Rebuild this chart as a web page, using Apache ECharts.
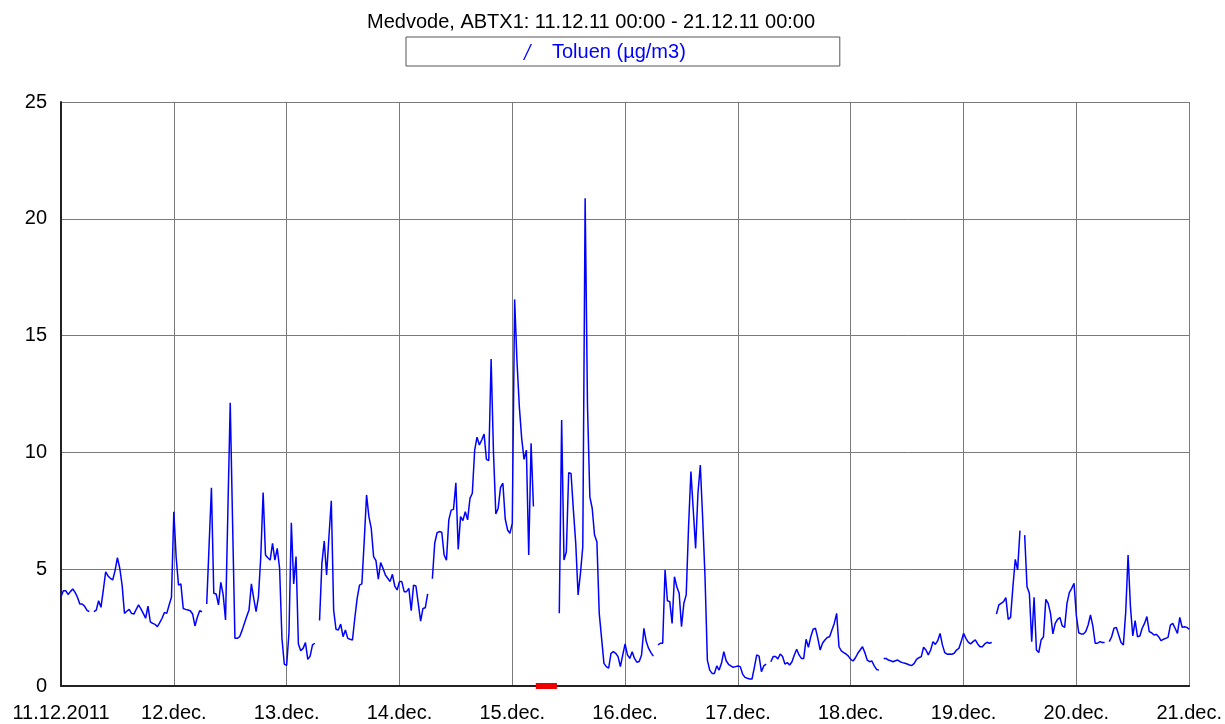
<!DOCTYPE html>
<html>
<head>
<meta charset="utf-8">
<title>Medvode ABTX1 - Toluen</title>
<script src="https://cdn.jsdelivr.net/npm/echarts@6/dist/echarts.min.js"></script>
<style>
  html, body { margin: 0; padding: 0; background: #fff; }
  #chart { width: 1225px; height: 724px; }
</style>
</head>
<body>
<div id="chart"></div>
<script>
// half-hour values of Toluen (µg/m3), one array per day, null = no measurement
var day11 = [3.82, 4.08, 4.08, 3.92, 4.04, 4.15, 4.01, 3.80, 3.51, 3.51, 3.42, 3.25, 3.18, null, 3.18, 3.25,
  3.65, 3.37, 4.10, 4.89, 4.71, 4.61, 4.54, 4.94, 5.49, 5.04, 4.32, 3.11, 3.20, 3.28, 3.11, 3.08,
  3.28, 3.47, 3.30, 3.11, 2.90, 3.42, 2.75, 2.68, 2.64, 2.54, 2.71, 2.90, 3.15, 3.11, 3.47, 3.80];
var day12 = [7.46, 5.50, 4.32, 4.37, 3.32, 3.28, 3.25, 3.22, 3.08, 2.57, 2.94, 3.22, 3.18, null, 3.51, 6.00,
  8.49, 3.97, 3.94, 3.47, 4.44, 3.90, 2.83, 7.50, 12.13, 7.00, 2.04, 2.04, 2.11, 2.37, 2.68, 2.97,
  3.25, 4.37, 3.75, 3.18, 3.82, 5.54, 8.28, 5.61, 5.49, 5.39, 6.11, 5.39, 5.89, 5.04, 2.04, 0.94];
var day13 = [0.88, 2.30, 6.99, 4.37, 5.54, 1.80, 1.51, 1.61, 1.86, 1.14, 1.28, 1.76, 1.83, null, 2.80, 5.25,
  6.21, 4.75, 6.39, 7.93, 3.25, 2.43, 2.40, 2.65, 2.11, 2.40, 2.04, 2.00, 1.97, 2.90, 3.75, 4.32,
  4.37, 6.18, 8.18, 7.25, 6.75, 5.54, 5.37, 4.57, 5.28, 5.04, 4.75, 4.61, 4.47, 4.78, 4.28, 4.11];
var day14 = [4.47, 4.47, 4.04, 4.04, 4.18, 3.22, 4.32, 4.28, 3.54, 2.78, 3.32, 3.35, 3.94, null, 4.59, 6.11,
  6.56, 6.61, 6.58, 5.61, 5.39, 7.11, 7.53, 7.56, 8.70, 5.85, 7.25, 7.08, 7.46, 7.11, 8.03, 8.25,
  10.10, 10.65, 10.32, 10.53, 10.79, 9.70, 9.65, 14.00, 10.00, 7.36, 7.61, 8.50, 8.68, 7.15, 6.68, 6.54];
var day15 = [6.96, 16.55, 13.90, 11.96, 10.60, 9.70, 10.10, 5.61, 10.39, 7.68, null, null, null, null, null, null,
  null, null, null, null, 3.11, 11.39, 5.39, 5.75, 9.13, 9.10, 7.53, 6.11, 3.90, 4.82, 5.96, 20.88,
  12.00, 8.10, 7.61, 6.46, 6.18, 3.11, 2.04, 0.97, 0.83, 0.76, 1.40, 1.47, 1.40, 1.26, 0.83, 1.33];
var day16 = [1.80, 1.33, 1.18, 1.47, 1.18, 1.02, 1.05, 1.33, 2.47, 1.90, 1.61, 1.43, 1.28, null, 1.76, 1.83,
  1.83, 4.97, 3.65, 3.61, 2.68, 4.68, 4.25, 3.97, 2.54, 3.54, 3.90, 6.82, 9.18, 7.53, 5.89, 8.25,
  9.46, 7.18, 4.68, 1.11, 0.68, 0.54, 0.54, 0.86, 0.68, 0.97, 1.47, 1.08, 0.93, 0.86, 0.80, 0.83];
var day17 = [0.86, 0.83, 0.51, 0.37, 0.33, 0.30, 0.30, 0.80, 1.33, 1.28, 0.61, 0.86, 0.94, null, 1.04, 1.26,
  1.26, 1.16, 1.37, 1.26, 0.94, 1.00, 0.90, 1.04, 1.33, 1.57, 1.33, 1.18, 1.18, 2.00, 1.66, 2.11,
  2.43, 2.47, 2.04, 1.54, 1.83, 1.97, 2.08, 2.11, 2.40, 2.68, 3.11, 1.68, 1.50, 1.43, 1.37, 1.28];
var day18 = [1.14, 1.07, 1.21, 1.40, 1.54, 1.68, 1.43, 1.11, 1.04, 1.07, 0.86, 0.71, 0.68, null, 1.18, 1.18,
  1.11, 1.08, 1.04, 1.08, 1.11, 1.04, 1.00, 0.97, 0.94, 0.90, 0.88, 0.97, 1.14, 1.21, 1.26, 1.66,
  1.54, 1.33, 1.54, 1.90, 1.78, 1.94, 2.25, 1.76, 1.43, 1.36, 1.37, 1.36, 1.40, 1.54, 1.61, 1.90];
var day19 = [2.25, 2.04, 1.88, 1.80, 1.90, 1.97, 1.80, 1.68, 1.68, 1.80, 1.87, 1.83, 1.86, null, 3.08, 3.47,
  3.54, 3.61, 3.78, 2.85, 2.94, 4.25, 5.42, 4.97, 6.65, null, 6.46, 4.25, 3.97, 1.90, 3.80, 1.54,
  1.43, 1.97, 2.11, 3.71, 3.54, 3.11, 2.23, 2.68, 2.85, 2.93, 2.57, 2.51, 3.54, 4.00, 4.18, 4.40];
var day20 = [3.00, 2.28, 2.23, 2.23, 2.33, 2.61, 3.04, 2.57, 1.83, 1.83, 1.90, 1.86, 1.86, null, 1.90, 2.11,
  2.47, 2.51, 2.18, 1.86, 1.76, 3.18, 5.61, 3.40, 2.14, 2.80, 2.11, 2.14, 2.47, 2.68, 2.97, 2.33,
  2.28, 2.18, 2.21, 2.11, 1.94, 2.00, 2.04, 2.08, 2.61, 2.68, 2.47, 2.25, 2.94, 2.51, 2.54, 2.51,
  2.43];

var dayLabels = ['11.12.2011', '12.dec.', '13.dec.', '14.dec.', '15.dec.', '16.dec.',
  '17.dec.', '18.dec.', '19.dec.', '20.dec.', '21.dec.'];
// hours (from 11.12. 00:00) of the red "missing data" mark on the time axis
var missingHours = [101, 105.5];

var toluen = [].concat(day11, day12, day13, day14, day15, day16, day17, day18, day19, day20);
var toluenData = toluen.map(function (v, i) { return [i * 0.5, v]; });

var font = 'Liberation Sans, Arial, sans-serif';
var myChart = echarts.init(document.getElementById('chart'));

var option = {
  animation: false,
  backgroundColor: '#fff',
  title: {
    text: 'Medvode, ABTX1: 11.12.11 00:00 - 21.12.11 00:00',
    left: 367,
    top: 12,
    padding: 0,
    textStyle: { fontFamily: font, fontSize: 20, fontWeight: 'normal', color: '#000' }
  },
  legend: {
    left: 406,
    top: 37,
    data: ['Toluen (µg/m3)'],
    padding: [5, 154, 4, 117],
    borderColor: '#555',
    borderWidth: 1,
    backgroundColor: '#fff',
    itemWidth: 9,
    itemHeight: 16,
    icon: 'path://M0,16 L1.4,16 L9,0 L7.6,0 Z',
    textStyle: { fontFamily: font, fontSize: 20, color: '#0000ff', padding: [0, 0, 0, 15] }
  },
  grid: { left: 61, right: 35, top: 102, bottom: 38 },
  xAxis: {
    type: 'value',
    min: 0,
    max: 240,
    interval: 24,
    axisLine: { show: true, lineStyle: { color: '#222', width: 2 } },
    axisTick: { show: false },
    splitLine: { show: true, lineStyle: { color: '#7a7a7a', width: 1 } },
    axisLabel: {
      margin: 17,
      color: '#000',
      fontFamily: font,
      fontSize: 20,
      showMinLabel: true,
      showMaxLabel: true,
      formatter: function (v) { return dayLabels[Math.round(v / 24)]; }
    }
  },
  yAxis: {
    type: 'value',
    min: 0,
    max: 25,
    interval: 5,
    axisLine: { show: true, lineStyle: { color: '#222', width: 2 } },
    axisTick: { show: false },
    splitLine: { show: true, lineStyle: { color: '#7a7a7a', width: 1 } },
    axisLabel: { margin: 14, color: '#000', fontFamily: font, fontSize: 20 }
  },
  series: [
    {
      name: 'Toluen (µg/m3)',
      type: 'line',
      data: toluenData,
      showSymbol: false,
      connectNulls: false,
      color: '#0000ff',
      lineStyle: { color: '#0000ff', width: 1.5 },
      z: 3
    },
    {
      name: 'missing',
      type: 'line',
      data: [[missingHours[0], 0], [missingHours[1], 0]],
      showSymbol: false,
      clip: false,
      silent: true,
      lineStyle: { color: '#ee0000', width: 6 },
      z: 4
    }
  ]
};
myChart.setOption(option);
</script>
</body>
</html>
